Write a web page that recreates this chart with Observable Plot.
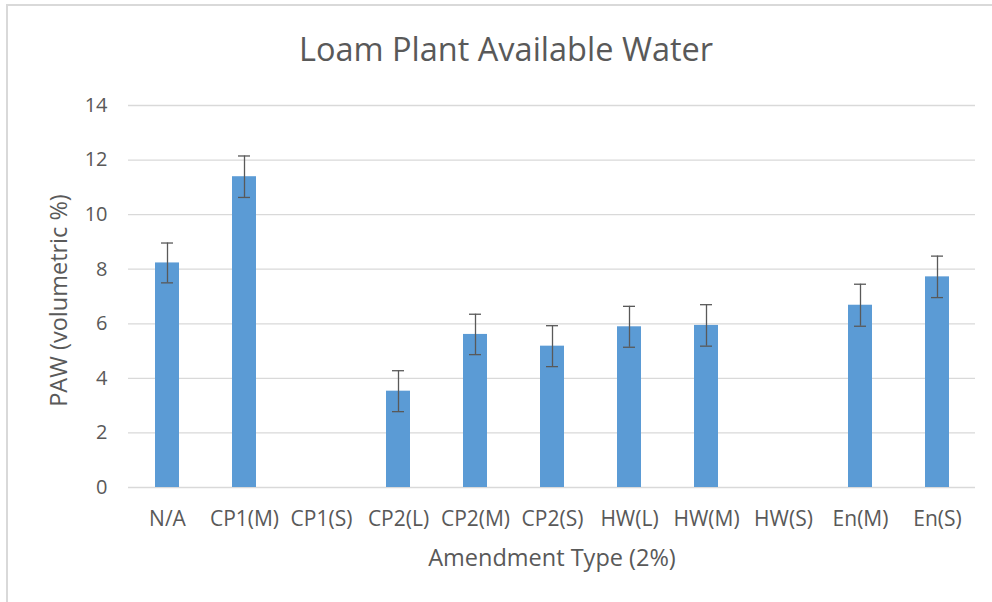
<!DOCTYPE html>
<html>
<head>
<meta charset="utf-8">
<script src="https://cdn.jsdelivr.net/npm/d3@7"></script>
<script src="https://cdn.jsdelivr.net/npm/@observablehq/plot@0.6"></script>
<style>
  body { margin: 0; background: #fff; }
  #wrap { position: relative; width: 992px; height: 602px; overflow: hidden; font-family: "Open Sans", sans-serif; background: #fff; }
  #frame { position: absolute; left: 6px; top: 4px; width: 1100px; height: 700px; border-top: 2px solid #d9d9d9; border-left: 2px solid #d9d9d9; }
  #title { position: absolute; left: 0; width: 1012px; top: 33px; text-align: center; font-size: 32.5px; line-height: 32.5px; color: #595959; white-space: nowrap; }
  #chart { position: absolute; left: 0; top: 0; }
</style>
</head>
<body>
<div id="wrap">
  <div id="frame"></div>
  <div id="chart"></div>
  <div id="title">Loam Plant Available Water</div>
</div>
<script>
const categories = ["N/A", "CP1(M)", "CP1(S)", "CP2(L)", "CP2(M)", "CP2(S)", "HW(L)", "HW(M)", "HW(S)", "En(M)", "En(S)"];
const values = [8.23, 11.39, null, 3.53, 5.61, 5.18, 5.89, 5.94, null, 6.68, 7.72];
const errors = [0.73, 0.76, null, 0.75, 0.74, 0.75, 0.75, 0.76, null, 0.77, 0.76];
const yTicks = [0, 2, 4, 6, 8, 10, 12, 14];
const titleText = "Loam Plant Available Water";
const xLabel = "Amendment Type (2%)";
const yLabel = "PAW (volumetric %)";

const data = categories.map((c, i) => ({cat: c, v: values[i], e: errors[i]}));
const present = data.filter(d => d.v != null);

const textColor = "#595959";

const chart = Plot.plot({
  width: 992,
  height: 602,
  marginLeft: 128,
  marginRight: 17,
  marginTop: 105,
  marginBottom: 115,
  style: {fontFamily: "'Open Sans', sans-serif", color: textColor, background: "transparent"},
  x: {domain: categories, paddingInner: 0.69, paddingOuter: 0.345, label: null},
  y: {domain: [0, 14], label: null},
  marks: [
    Plot.gridY(yTicks, {stroke: "#d9d9d9", strokeOpacity: 1, strokeWidth: 1.3}),
    Plot.barY(present, {x: "cat", y: "v", fill: "#5b9bd5"}),
    Plot.ruleX(present, {x: "cat", y1: d => d.v - d.e, y2: d => d.v + d.e, stroke: "#595959", strokeWidth: 1.3}),
    Plot.tickY(present, {x: "cat", y: d => d.v + d.e, stroke: "#595959", strokeWidth: 1.3, insetLeft: 6, insetRight: 6}),
    Plot.tickY(present, {x: "cat", y: d => d.v - d.e, stroke: "#595959", strokeWidth: 1.3, insetLeft: 6, insetRight: 6}),
    Plot.axisY(yTicks, {tickSize: 0, tickPadding: 21, fontSize: 20, fill: textColor, label: null}),
    Plot.axisX({tickSize: 0, tickPadding: 24, fontSize: 21, fill: textColor, label: null}),
    Plot.text([xLabel], {frameAnchor: "bottom", dy: 71, text: d => d, fontSize: 23.5, fill: textColor, lineAnchor: "middle", textAnchor: "middle"}),
    Plot.text([yLabel], {frameAnchor: "left", dx: -69, dy: 4, rotate: -90, text: d => d, fontSize: 23.5, fill: textColor, lineAnchor: "middle", textAnchor: "middle"})
  ]
});
document.getElementById("chart").appendChild(chart);
document.getElementById("title").textContent = titleText;
</script>
</body>
</html>
